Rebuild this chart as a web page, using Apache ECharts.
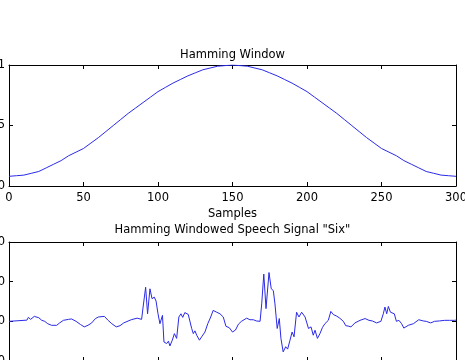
<!DOCTYPE html>
<html>
<head>
<meta charset="utf-8">
<script src="https://cdn.jsdelivr.net/npm/echarts@6/dist/echarts.min.js"></script>
<style>
html, body { margin: 0; padding: 0; background: #fff; }
#main { width: 465px; height: 360px; }
</style>
</head>
<body>
<div id="main"></div>
<script>
// 汉明窗 (每5个样本读一次)
var winN = [0, 5, 10, 15, 20, 25, 30, 35, 40, 45, 50, 55, 60, 65, 70, 75, 80, 85, 90, 95, 100,
    105, 110, 115, 120, 125, 130, 135, 140, 145, 150, 155, 160, 165, 170, 175, 180, 185, 190, 195, 200,
    205, 210, 215, 220, 225, 230, 235, 240, 245, 250, 255, 260, 265, 270, 275, 280, 285, 290, 295, 300];
var winW = [0.08, 0.085, 0.09, 0.105, 0.12, 0.15, 0.18, 0.21, 0.25, 0.28, 0.31, 0.355, 0.40, 0.45, 0.50, 0.55, 0.60, 0.645, 0.69, 0.735, 0.78,
    0.815, 0.85, 0.88, 0.91, 0.935, 0.96, 0.975, 0.99, 0.995, 1.0, 0.995, 0.99, 0.975, 0.96, 0.935, 0.91, 0.88, 0.85, 0.815, 0.78,
    0.735, 0.69, 0.645, 0.60, 0.55, 0.50, 0.45, 0.40, 0.355, 0.31, 0.28, 0.25, 0.21, 0.18, 0.15, 0.12, 0.105, 0.09, 0.085, 0.08];

// 加窗后的语音信号 "Six"
var speechX = [0, 4, 12, 13, 14.5, 17, 20, 22, 24, 26, 28.6, 32, 34, 36.5, 40, 42, 45, 48, 50.5, 53,
    55.5, 58, 60, 64, 66.5, 69, 72, 74.5, 77, 82, 86, 89, 90, 91.7, 93, 94.6, 96, 97.5, 98.7, 100,
    101.3, 103, 104, 105.8, 107, 108, 109.6, 111, 112.5, 114, 115.4, 116.6, 118, 120.3, 121.5, 122.6, 123.7, 124.8, 126, 127.8,
    129.3, 131.5, 133.4, 134.5, 135.4, 137, 139.4, 141.6, 143.8, 145.6, 147.8, 150, 152, 154, 156, 159.5, 161.7, 164, 166, 168.5,
    169.6, 171, 172.5, 174.5, 176, 177.4, 178.5, 180, 181.4, 182.5, 184, 185.7, 187, 188.6, 190, 191.3, 193, 194.6, 196.4, 198.7,
    201, 202.7, 204.2, 205.4, 207, 208.7, 210.3, 212, 214.3, 216, 217.7, 220, 222, 224.4, 226, 227.7, 229.5, 232.2, 235.6, 239,
    241.6, 243.8, 246.7, 249.6, 251.2, 252.3, 253.5, 254.6, 256, 258.6, 260, 261.7, 263.5, 265, 268, 271.4, 275, 278, 280, 283,
    285.6, 289, 292.4, 295.6, 299, 300];
var speechY = [0, 0.1, 0.3, 1, 0.5, 1.25, 0.9, 0.25, 0, -0.6, -1, -1, -0.4, 0.25, 0.5, 0.6, 0, -0.8, -1.4, -1,
    -0.4, 0.7, 1.1, 1.25, 0.25, -0.6, -1.4, -1.1, -0.4, 0.4, 0.8, 0.5, 3.6, 8.6, 1.9, 8.2, 5.7, 6.1, 5.1, 1.9,
    -0.6, 1.5, -5.2, -5.6, -5, -6.2, -4.75, -3.1, -4.3, 1.1, 1.9, 1.0, 2.2, 1.75, 1.9, -1.8, -3.1, -2.4, -3.5, -4.75,
    -3.9, -2.7, -0.6, -0.5, 1.1, 2.75, 2.3, 1.9, 1.1, -1.25, -1.6, -2.7, -2.2, -0.7, 0, 0.8, 0.4, 0.4, 0.1, 0,
    4.4, 11.9, 3.2, 12.3, 8.2, 7.75, 4.4, -1.8, 0.7, -4.3, -7.7, -6.4, -7, -4.75, -2.7, -3.9, 2.3, 1.1, 2.3, 1.1,
    -1.8, -1.4, -3.5, -2.25, -4.3, -3.1, -1.6, -0.6, 0.25, 2.5, 1.7, 1.3, 0.8, 0, -1.1, -1.2, -1.4, -0.4, 0.25, 0.7,
    0.25, 0.1, -0.4, 0, 1.9, 3.6, 1.9, 3.75, 2.3, 1.9, 0, 0.25, -0.6, -1.7, -1, -0.6, 0.4, 0.1, 0, -0.4,
    0, 0.1, 0.25, 0.25, 0.25, 0.3];

// 刻度
var xTicks = { min: 0, max: 300, interval: 50 };
var winTicks = { min: 0, max: 1, interval: 0.5 };
var sigTicks = { min: -10, max: 20, interval: 10 };

var font = 'DejaVu Sans';
var fontSize = 11.5;
var lineColor = '#2a2ae8';

function pairs(xs, ys) {
    var out = [];
    for (var i = 0; i < xs.length; i++) out.push([xs[i], ys[i]]);
    return out;
}

// 坐标轴 (MATLAB 样式：四周边框, 刻度朝内)
function makeX(grid, pos, show, name) {
    return {
        type: 'value', gridIndex: grid, position: pos,
        min: xTicks.min, max: xTicks.max, interval: xTicks.interval,
        name: name || '', nameLocation: 'middle', nameGap: 22,
        nameTextStyle: { fontFamily: font, fontSize: fontSize, color: '#000' },
        axisLine: { show: true, onZero: false, lineStyle: { color: '#000', width: 1 } },
        axisTick: { show: true, inside: true, length: 4, lineStyle: { color: '#000' } },
        axisLabel: { show: show, margin: 6, fontFamily: font, fontSize: fontSize, color: '#000' },
        splitLine: { show: false }
    };
}
function makeY(grid, pos, show, t) {
    return {
        type: 'value', gridIndex: grid, position: pos,
        min: t.min, max: t.max, interval: t.interval,
        axisLine: { show: true, onZero: false, lineStyle: { color: '#000', width: 1 } },
        axisTick: { show: true, inside: true, length: 4, lineStyle: { color: '#000' } },
        axisLabel: { show: show, margin: 4, fontFamily: font, fontSize: fontSize, color: '#000' },
        splitLine: { show: false }
    };
}

var chart = echarts.init(document.getElementById('main'));
var option = {
    animation: false,
    backgroundColor: '#fff',
    title: [
        { text: 'Hamming Window', left: 'center', top: 44,
          textStyle: { fontFamily: font, fontSize: fontSize, fontWeight: 'normal', color: '#000' } },
        { text: 'Hamming Windowed Speech Signal "Six"', left: 'center', top: 219,
          textStyle: { fontFamily: font, fontSize: fontSize, fontWeight: 'normal', color: '#000' } }
    ],
    grid: [
        { left: 9, right: 9, top: 65, height: 121, containLabel: false, outerBoundsMode: 'none' },
        { left: 9, right: 9, top: 242, height: 119, containLabel: false, outerBoundsMode: 'none' }
    ],
    xAxis: [
        makeX(0, 'bottom', true, 'Samples'),
        makeX(0, 'top', false),
        makeX(1, 'bottom', false),
        makeX(1, 'top', false)
    ],
    yAxis: [
        makeY(0, 'left', true, winTicks),
        makeY(0, 'right', false, winTicks),
        makeY(1, 'left', true, sigTicks),
        makeY(1, 'right', false, sigTicks)
    ],
    series: [
        {
            type: 'line', xAxisIndex: 0, yAxisIndex: 0,
            data: pairs(winN, winW), smooth: false, showSymbol: false,
            lineStyle: { color: lineColor, width: 1 }
        },
        {
            type: 'line', xAxisIndex: 2, yAxisIndex: 2,
            data: pairs(speechX, speechY), showSymbol: false,
            lineStyle: { color: lineColor, width: 1 }
        }
    ]
};
chart.setOption(option);
</script>
</body>
</html>
